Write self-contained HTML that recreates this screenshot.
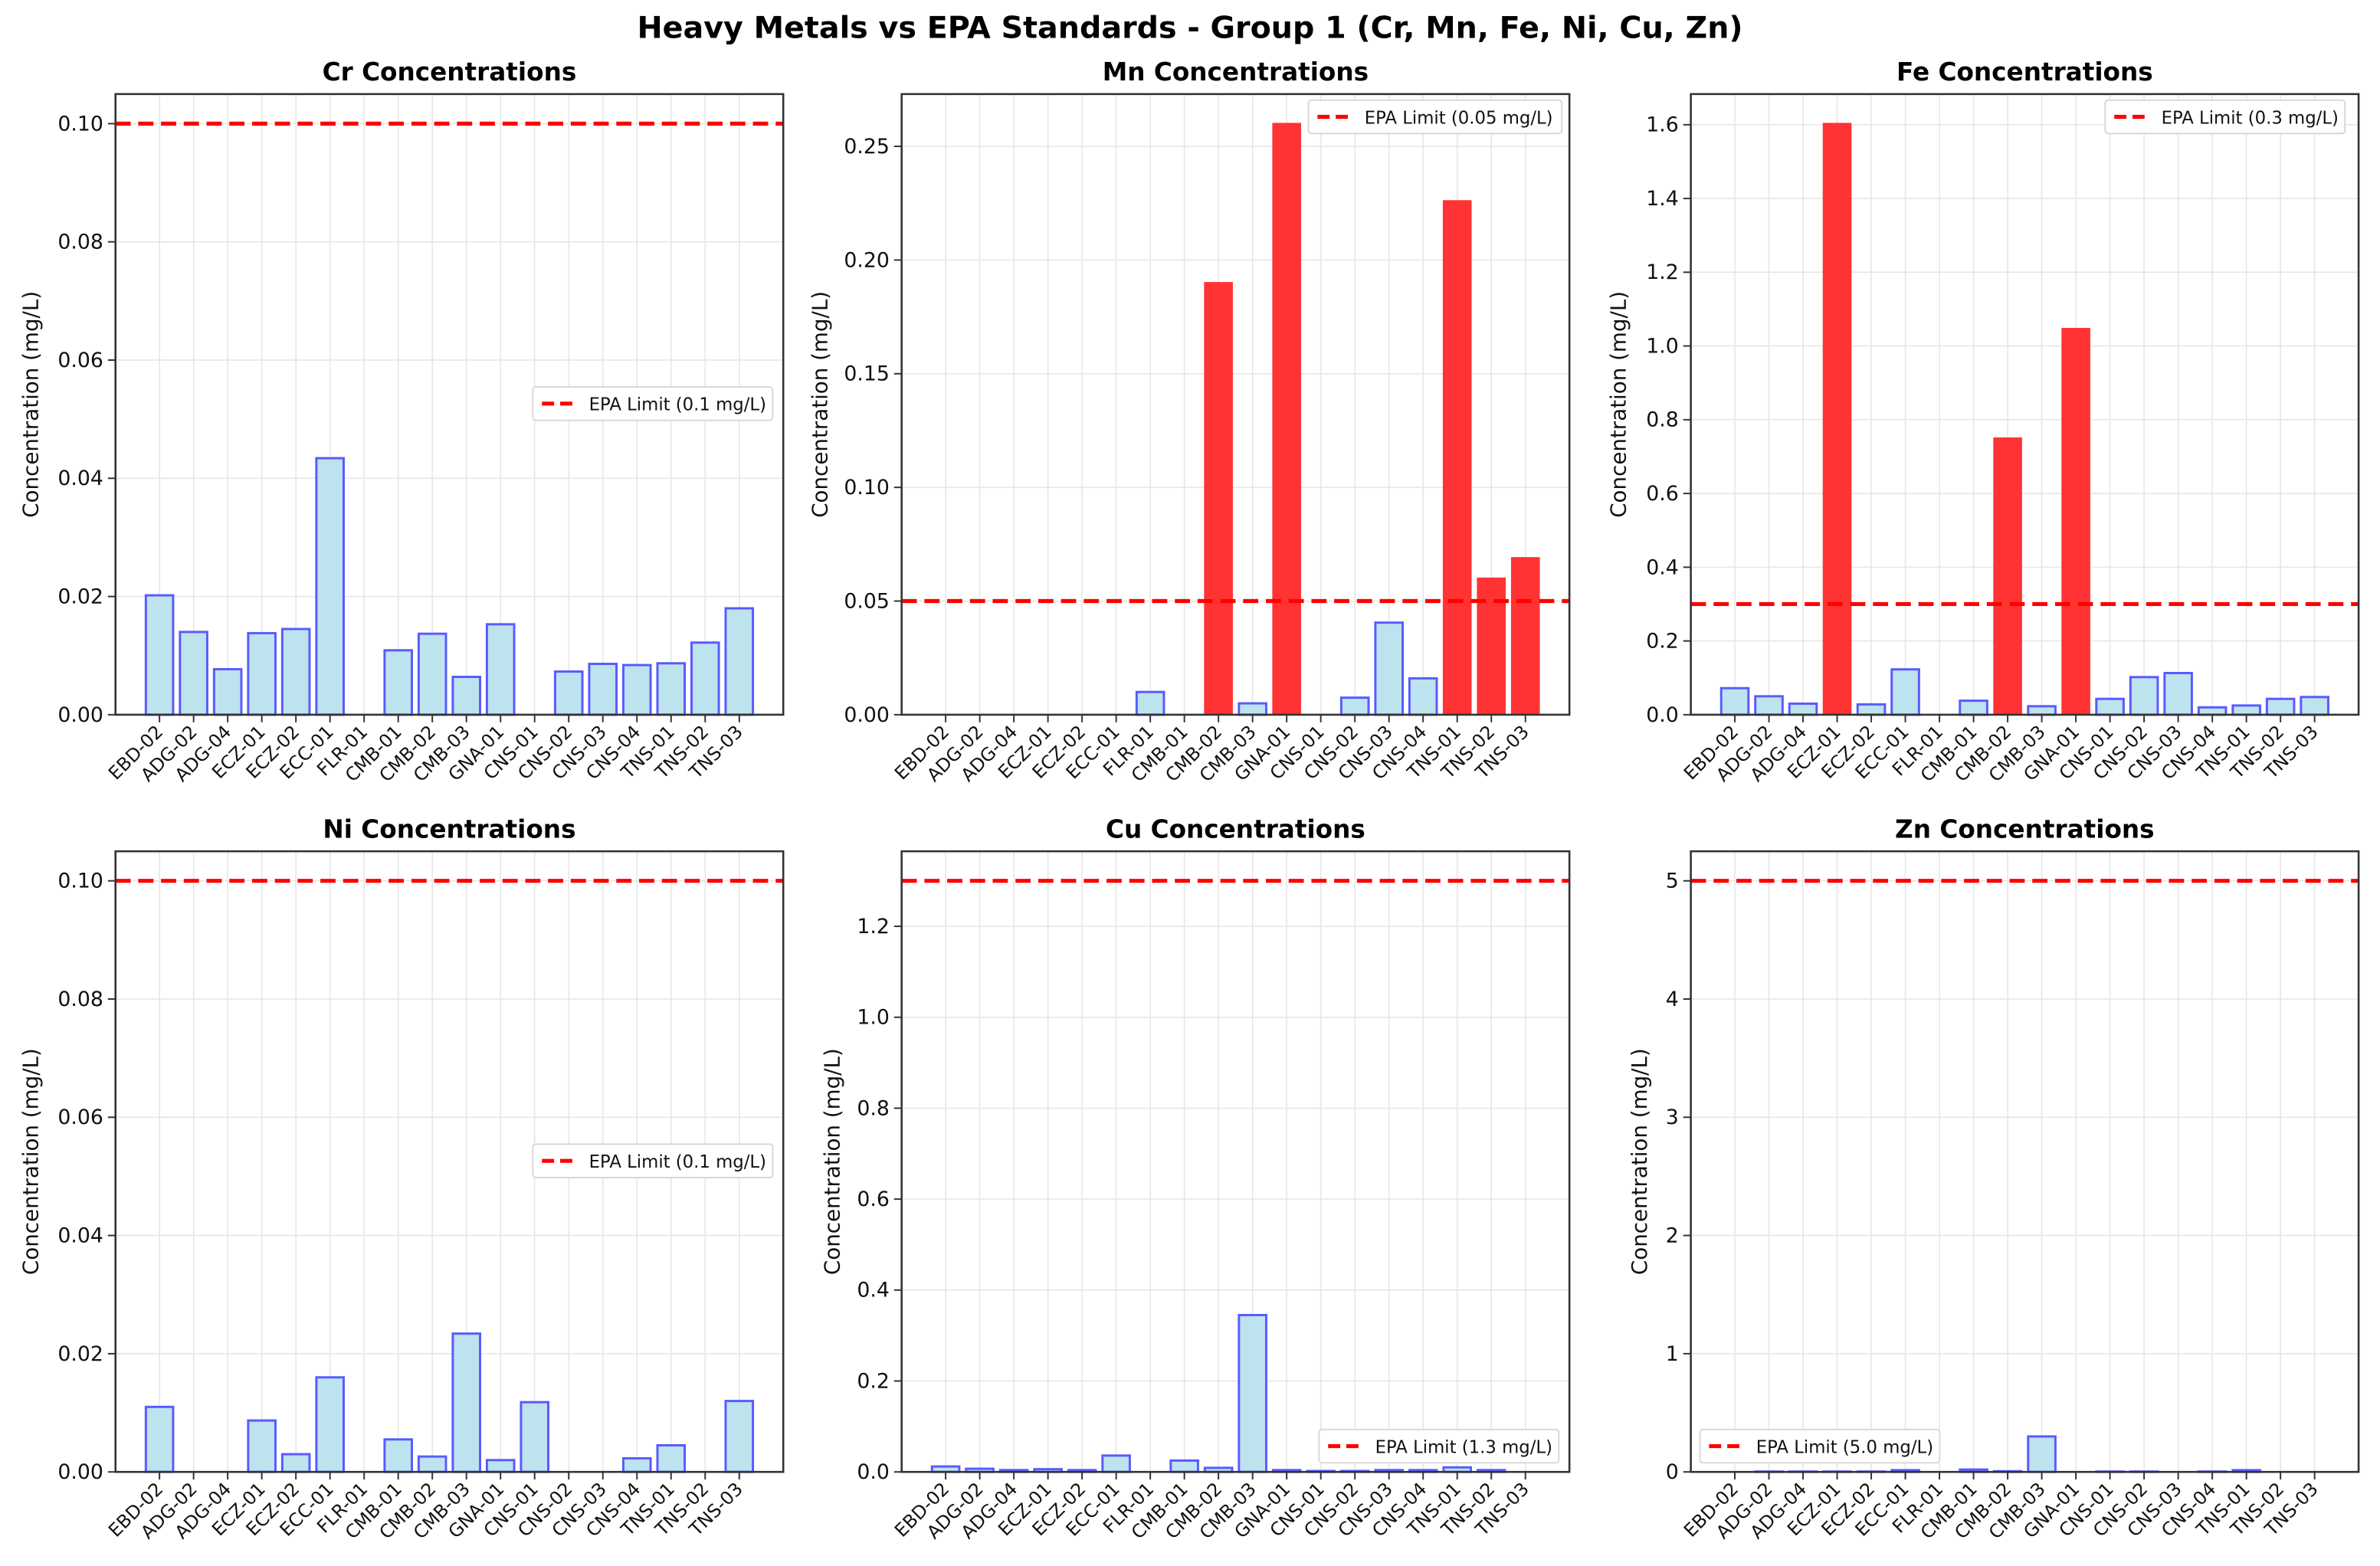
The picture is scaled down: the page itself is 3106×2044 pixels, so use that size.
<!DOCTYPE html>
<html><head><meta charset="utf-8"><style>
html,body{margin:0;padding:0;background:#fff}
svg{display:block;font-family:"DejaVu Sans","Liberation Sans",sans-serif}
</style></head><body>
<svg id="fig" width="3106" height="2044" viewBox="0 0 1568 1032" xmlns="http://www.w3.org/2000/svg">
<rect width="1568" height="1032" fill="#fff"/>
<text x="784" y="25" text-anchor="middle" font-size="20" font-weight="bold">Heavy Metals vs EPA Standards - Group 1 (Cr, Mn, Fe, Ni, Cu, Zn)</text>
</svg>
<script>
const categories = ["EBD-02","ADG-02","ADG-04","ECZ-01","ECZ-02","ECC-01","FLR-01","CMB-01","CMB-02","CMB-03","GNA-01","CNS-01","CNS-02","CNS-03","CNS-04","TNS-01","TNS-02","TNS-03"];
const crValues = [0.0202,0.014,0.0077,0.0138,0.0145,0.0434,0,0.0109,0.0137,0.0064,0.0153,0,0.0073,0.0086,0.0084,0.0087,0.0122,0.018];
const mnValues = [0,0,0,0,0,0,0.010,0,0.190,0.005,0.260,0,0.0075,0.0405,0.016,0.226,0.060,0.069];
const feValues = [0.072,0.050,0.030,1.603,0.028,0.123,0,0.038,0.750,0.023,1.047,0.043,0.102,0.113,0.020,0.025,0.043,0.048];
const niValues = [0.011,0,0,0.0087,0.003,0.016,0,0.0055,0.0026,0.0234,0.002,0.0118,0,0,0.0023,0.0045,0,0.012];
const cuValues = [0.012,0.007,0.004,0.006,0.004,0.036,0,0.025,0.009,0.345,0.004,0.002,0.002,0.004,0.004,0.010,0.004,0];
const znValues = [0,0.003,0.003,0.003,0.003,0.015,0,0.02,0.006,0.30,0,0.003,0.003,0,0.003,0.015,0,0];
const limits = [0.1,0.05,0.3,0.1,1.3,5.0];
const limitLabels = ["EPA Limit (0.1 mg/L)","EPA Limit (0.05 mg/L)","EPA Limit (0.3 mg/L)","EPA Limit (0.1 mg/L)","EPA Limit (1.3 mg/L)","EPA Limit (5.0 mg/L)"];
const metals = ["Cr","Mn","Fe","Ni","Cu","Zn"];
const crTicks = ["0.00","0.02","0.04","0.06","0.08","0.10"];
const mnTicks = ["0.00","0.05","0.10","0.15","0.20","0.25"];
const feTicks = ["0.0","0.2","0.4","0.6","0.8","1.0","1.2","1.4","1.6"];
const niTicks = ["0.00","0.02","0.04","0.06","0.08","0.10"];
const cuTicks = ["0.0","0.2","0.4","0.6","0.8","1.0","1.2"];
const znTicks = ["0","1","2","3","4","5"];

const svg = document.getElementById('fig');
const NS = 'http://www.w3.org/2000/svg';
function mk(tag, attrs, parent){const e=document.createElementNS(NS,tag);for(const k in attrs)e.setAttribute(k,attrs[k]);(parent||svg).appendChild(e);return e;}

const panels = [
 {vals:crValues,ticks:crTicks,x0:76,y0:62,legend:[351,255],ylx:20},
 {vals:mnValues,ticks:mnTicks,x0:594,y0:62,legend:[862,66],ylx:540},
 {vals:feValues,ticks:feTicks,x0:1114,y0:62,legend:[1387,66],ylx:1066},
 {vals:niValues,ticks:niTicks,x0:76,y0:561,legend:[351,754],ylx:20},
 {vals:cuValues,ticks:cuTicks,x0:594,y0:561,legend:[869,942],ylx:548},
 {vals:znValues,ticks:znTicks,x0:1114,y0:561,legend:[1120,942],ylx:1080}
];
const W=440,H=409;
panels.forEach((p,pi)=>{
  const g=mk('g',{});
  
  
  const maxV=Math.max(...p.vals,limits[pi]);
  const ymax=maxV*1.05;
  const n=categories.length;
  const xmin=-0.4-0.89, xmax=n-1+0.4+0.89;
  const X=v=>p.x0+(v-xmin)/(xmax-xmin)*W;
  const Y=v=>p.y0+H-v/ymax*H;
  categories.forEach((c,i)=>{const l=mk('line',{x1:X(i),x2:X(i),y1:p.y0,y2:p.y0+H,stroke:'#e6e6e6','stroke-width':0.8},g);
    });
  p.ticks.forEach(t=>{const v=parseFloat(t);const l=mk('line',{x1:p.x0,x2:p.x0+W,y1:Y(v),y2:Y(v),stroke:'#e6e6e6','stroke-width':0.8},g);
    });
  p.vals.forEach((v,i)=>{
    const over=v>limits[pi];
    const bw=0.8/(xmax-xmin)*W;
    const r=mk('rect',{x:X(i)-bw/2,y:Y(v),width:bw,height:Y(0)-Y(v),
      fill:over?'#ff3333':'#bde3ee',stroke:over?'#ff3333':'#5a5aff','stroke-width':over?1:1.5},g);
    
    
  });
  const ll=mk('line',{x1:p.x0,x2:p.x0+W,y1:Y(limits[pi]),y2:Y(limits[pi]),stroke:'#ff0000','stroke-width':2.6,'stroke-dasharray':'10 5'},g);
  
  const fr=mk('rect',{x:p.x0,y:p.y0,width:W,height:H,fill:'none',stroke:'#333','stroke-width':1.3},g);
  
  p.ticks.forEach(t=>{const v=parseFloat(t);
    mk('line',{x1:p.x0-5,x2:p.x0,y1:Y(v),y2:Y(v),stroke:'#333','stroke-width':1},g);
    const tx=mk('text',{x:p.x0-8,y:Y(v)+4.5,'text-anchor':'end','font-size':13.5,fill:'#111'},g);
    tx.textContent=t;});
  categories.forEach((c,i)=>{
    mk('line',{x1:X(i),x2:X(i),y1:p.y0+H,y2:p.y0+H+5,stroke:'#333','stroke-width':1},g);
    const tx=mk('text',{x:X(i)+3,y:p.y0+H+12,'text-anchor':'end','font-size':12,fill:'#111',transform:`rotate(-45 ${X(i)+3} ${p.y0+H+12})`},g);
    tx.textContent=c;});
  const ti=mk('text',{x:p.x0+W/2,y:p.y0-9,'text-anchor':'middle','font-size':16.5,'font-weight':'bold'},g);
  ti.textContent=metals[pi]+' Concentrations';
  const yl=mk('text',{x:p.ylx,y:p.y0+H/2,'text-anchor':'middle','font-size':14,fill:'#111',transform:`rotate(-90 ${p.ylx} ${p.y0+H/2})`,dy:5},g);
  yl.textContent='Concentration (mg/L)';
  const [lx,ly]=p.legend;
  const lw=pi===1?167:158;
  const lg=mk('g',{},g);
  
  mk('rect',{x:lx,y:ly,width:lw,height:22,rx:2,fill:'#fff',stroke:'#d8d8d8','stroke-width':1},lg);
  mk('line',{x1:lx+6,x2:lx+29,y1:ly+11,y2:ly+11,stroke:'#ff0000','stroke-width':2.6,'stroke-dasharray':'8 4'},lg);
  const lt=mk('text',{x:lx+37,y:ly+15.5,'font-size':11.5,fill:'#111'},lg);
  lt.textContent=limitLabels[pi];
});
</script>
</body></html>
